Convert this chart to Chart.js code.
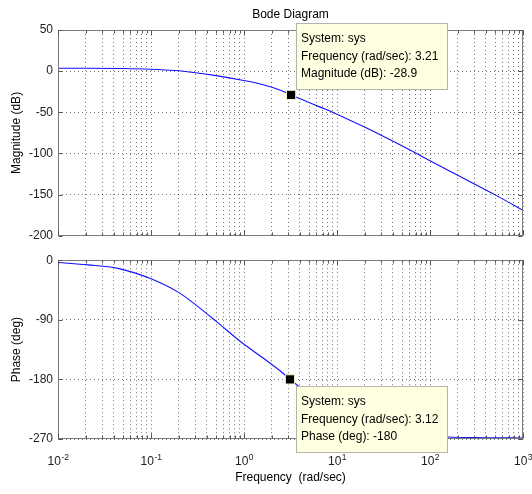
<!DOCTYPE html>
<html>
<head>
<meta charset="utf-8">
<script src="https://cdn.jsdelivr.net/npm/chart.js@4.4.1/dist/chart.umd.min.js"></script>
<style>
  html, body { margin: 0; padding: 0; background: #fff; }
  #wrap { position: relative; width: 532px; height: 494px; }
  canvas { position: absolute; left: 0; }
  #magCanvas { top: 0; }
  #phaseCanvas { top: 248px; }
</style>
</head>
<body>
<div id="wrap">
  <canvas id="magCanvas" width="532" height="248"></canvas>
  <canvas id="phaseCanvas" width="532" height="246"></canvas>
</div>
<script>
// values
const magFreq = [0.01, 0.02, 0.05, 0.1, 0.18, 0.3, 0.48, 0.96, 1.58, 2.59, 3.21, 3.9, 6.7, 9.3, 19.5, 44.7, 100, 232, 525, 1000];
const magDb = [3.6, 3.6, 3.3, 2.4, 0.8, -1.9, -5.1, -11, -16.2, -24, -28.9, -33, -44, -50.7, -67.6, -88, -108.7, -130.5, -151.5, -169];

const phaseFreq = [0.01, 0.021, 0.044, 0.1, 0.2, 0.3, 0.5, 0.96, 1.58, 2.59, 3.12, 3.68, 5, 10, 20, 50, 154, 400, 1000];
const phaseDeg = [-3.4, -7, -12.3, -28, -49, -67, -92, -125, -147, -170, -180, -188, -203, -230, -250, -261, -267, -268, -268.5];

const magMarkerFreq = [3.21];
const magMarkerDb = [-28.9];
const phaseMarkerFreq = [3.12];
const phaseMarkerDeg = [-180];

const magTipLines = ['System: sys', 'Frequency (rad/sec): 3.21', 'Magnitude (dB): -28.9'];
const phaseTipLines = ['System: sys', 'Frequency (rad/sec): 3.12', 'Phase (deg): -180'];

const magTicks = [50, 0, -50, -100, -150, -200];
const phaseTicks = [0, -90, -180, -270];
const decadeTicks = [0.01, 0.1, 1, 10, 100, 1000];
const decadeExps = ['-2', '-1', '0', '1', '2', '3'];

const FONT = '"Liberation Sans", Arial, sans-serif';
Chart.defaults.font.family = FONT;
Chart.defaults.font.size = 12;
Chart.defaults.color = '#222';

// all 1..9 x 10^n positions for the log grid
const logGrid = [];
for (let d = 0; d < decadeTicks.length - 1; d++) {
  for (let m = 1; m < 10; m++) logGrid.push(m * decadeTicks[d]);
}
logGrid.push(decadeTicks[decadeTicks.length - 1]);

const pts = (xs, ys) => xs.map((x, i) => ({ x: x, y: ys[i] }));

const dotted = { color: 'rgba(0,0,0,0.55)', lineWidth: 1, drawTicks: false };
const noBorder = { display: false, dash: [1, 3] };

// frame, inward ticks and the data tip box
const framePlugin = {
  id: 'frame',
  afterDraw(chart, args, opts) {
    const { ctx, chartArea: a, scales } = chart;
    ctx.save();
    ctx.strokeStyle = '#7a7a7a';
    ctx.lineWidth = 1;
    const L = Math.round(a.left) + 0.5, R = Math.round(a.right) - 0.5;
    const T = Math.round(a.top) + 0.5, B = Math.round(a.bottom) - 0.5;
    ctx.strokeRect(L, T, R - L, B - T);
    ctx.strokeStyle = '#555';
    ctx.beginPath();
    logGrid.forEach(v => {
      const x = Math.round(scales.x.getPixelForValue(v)) + 0.5;
      const len = decadeTicks.includes(v) ? 5 : 3;
      ctx.moveTo(x, T); ctx.lineTo(x, T + len);
      ctx.moveTo(x, B); ctx.lineTo(x, B - len);
    });
    scales.y.ticks.forEach(t => {
      const y = Math.round(scales.y.getPixelForValue(t.value)) + 0.5;
      ctx.moveTo(L, y); ctx.lineTo(L + 4, y);
      ctx.moveTo(R, y); ctx.lineTo(R - 4, y);
    });
    ctx.stroke();

    // data tip
    const m = chart.getDatasetMeta(0).data[0];
    const w = 152, h = 67;
    const bx = Math.round(m.x) + opts.dx;
    const by = opts.above ? Math.round(m.y) - 5 - h : Math.round(m.y) + 7;
    ctx.fillStyle = '#ffffe1';
    ctx.fillRect(bx, by, w, h);
    ctx.strokeStyle = '#b4b4a8';
    ctx.strokeRect(bx + 0.5, by + 0.5, w - 1, h - 1);
    ctx.fillStyle = '#000';
    ctx.font = '12px ' + FONT;
    ctx.textBaseline = 'middle';
    ctx.textAlign = 'left';
    opts.lines.forEach((s, i) => ctx.fillText(s, bx + 5, by + 16 + i * 17.5));
    ctx.restore();
  }
};

// 10^n labels under the phase axes
const decadeLabelPlugin = {
  id: 'decadeLabels',
  afterDraw(chart) {
    const { ctx, scales } = chart;
    const base = chart.chartArea.bottom + 26;
    ctx.save();
    ctx.fillStyle = '#222';
    ctx.textBaseline = 'alphabetic';
    ctx.textAlign = 'left';
    decadeTicks.forEach((v, i) => {
      const x = scales.x.getPixelForValue(v);
      ctx.font = '12px ' + FONT;
      const w1 = ctx.measureText('10').width;
      ctx.font = '8.5px ' + FONT;
      const w2 = ctx.measureText(decadeExps[i]).width;
      const x0 = x - (w1 + w2) / 2;
      ctx.font = '12px ' + FONT;
      ctx.fillText('10', x0, base);
      ctx.font = '8.5px ' + FONT;
      ctx.fillText(decadeExps[i], x0 + w1 + 0.5, base - 5);
    });
    ctx.restore();
  }
};

const xScale = (height, withTitle) => ({
  type: 'logarithmic',
  min: 0.01,
  max: 1000,
  grid: dotted,
  border: noBorder,
  ticks: { display: false },
  afterBuildTicks: s => { s.ticks = logGrid.map(v => ({ value: v })); },
  afterFit: s => { s.height = height; },
  title: withTitle ? { display: true, text: 'Frequency  (rad/sec)', color: '#000', padding: { top: 0, bottom: 9 } } : { display: false }
});

const yScale = (min, max, ticks, label) => ({
  min: min,
  max: max,
  grid: dotted,
  border: noBorder,
  ticks: { padding: 5, color: '#222' },
  afterBuildTicks: s => { s.ticks = ticks.map(v => ({ value: v })); },
  afterFit: s => { s.width = 58; },
  title: { display: true, text: label, color: '#000', padding: { top: 9, bottom: 0 } }
});

const lineSet = (data) => ({
  data: data,
  showLine: true,
  borderColor: '#1010ff',
  borderWidth: 1.1,
  pointRadius: 0,
  cubicInterpolationMode: 'monotone'
});

const markerSet = (data) => ({
  data: data,
  showLine: false,
  pointStyle: 'rect',
  pointRadius: 6.5,
  backgroundColor: '#000',
  borderColor: '#f2f2c8',
  borderWidth: 1
});

new Chart(document.getElementById('magCanvas'), {
  type: 'scatter',
  data: {
    datasets: [
      markerSet(pts(magMarkerFreq, magMarkerDb)),
      lineSet(pts(magFreq, magDb))
    ]
  },
  options: {
    responsive: false,
    animation: false,
    layout: { padding: { left: 0, right: 9, top: 0, bottom: 9 } },
    plugins: {
      legend: { display: false },
      tooltip: { enabled: false },
      title: {
        display: true,
        text: 'Bode Diagram',
        fullSize: false,
        color: '#000',
        font: { size: 12, weight: 'normal' },
        padding: { top: 7, bottom: 8.6 }
      },
      frame: { lines: magTipLines, dx: 5, above: true }
    },
    scales: {
      x: xScale(0, false),
      y: yScale(-200, 50, magTicks, 'Magnitude (dB)')
    }
  },
  plugins: [framePlugin]
});

new Chart(document.getElementById('phaseCanvas'), {
  type: 'scatter',
  data: {
    datasets: [
      markerSet(pts(phaseMarkerFreq, phaseMarkerDeg)),
      lineSet(pts(phaseFreq, phaseDeg))
    ]
  },
  options: {
    responsive: false,
    animation: false,
    layout: { padding: { left: 0, right: 9, top: 8, bottom: 0 } },
    plugins: {
      legend: { display: false },
      tooltip: { enabled: false },
      frame: { lines: phaseTipLines, dx: 6, above: false }
    },
    scales: {
      x: xScale(55, true),
      y: yScale(-270, 0, phaseTicks, 'Phase (deg)')
    }
  },
  plugins: [framePlugin, decadeLabelPlugin]
});
</script>
</body>
</html>
